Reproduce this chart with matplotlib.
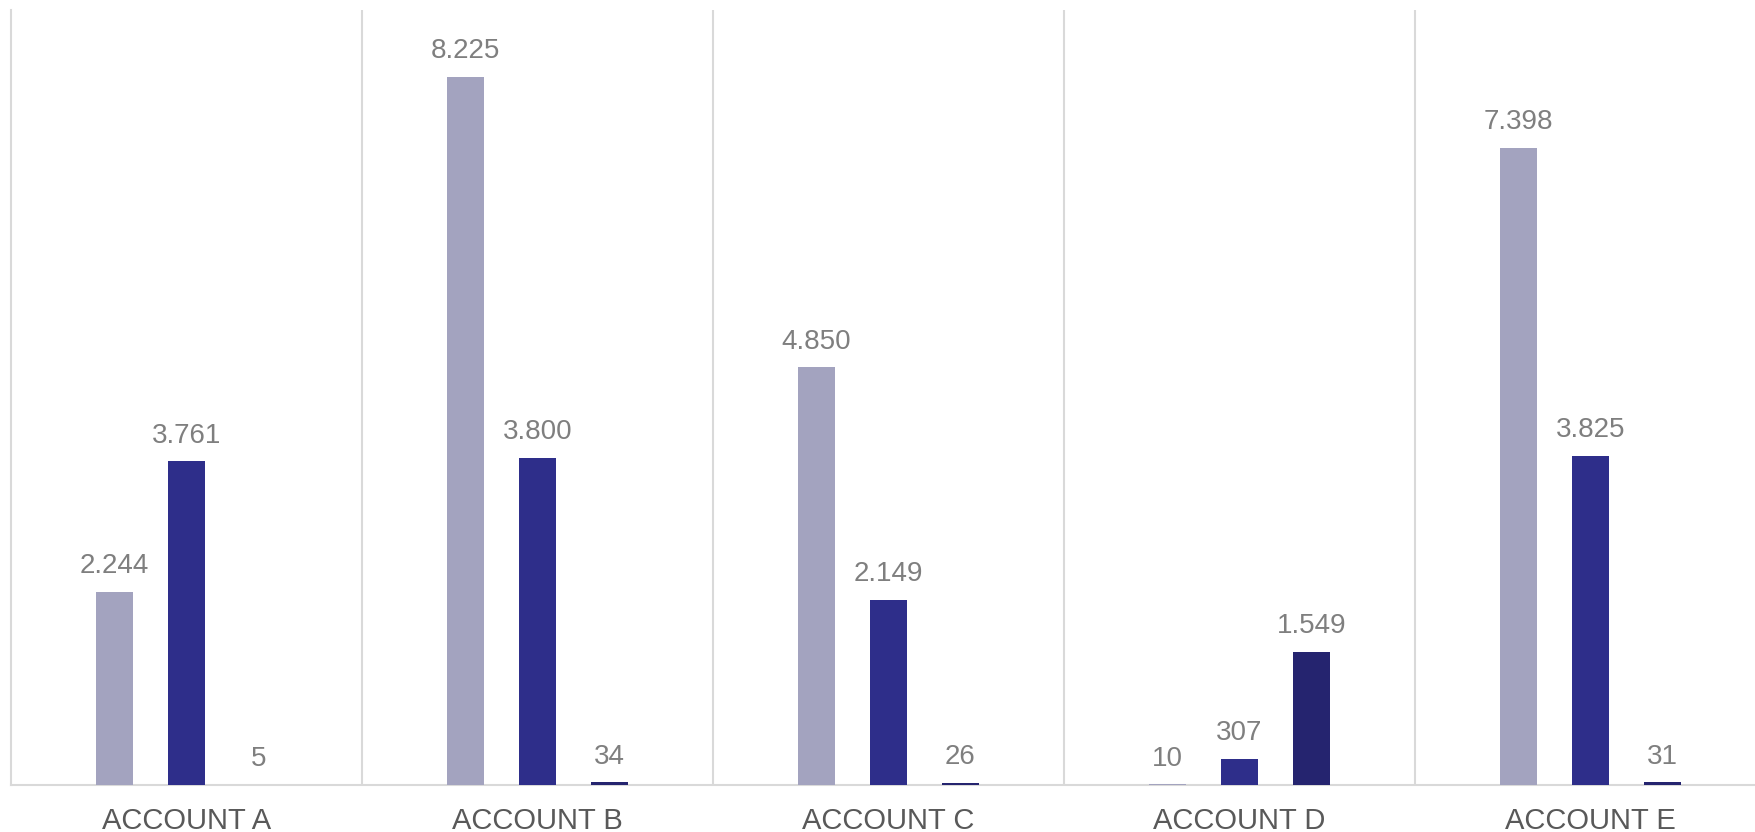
import numpy as np
import matplotlib
matplotlib.use("Agg")
import matplotlib.pyplot as plt

plt.rcParams['font.family'] = ['Liberation Sans', 'DejaVu Sans']

accounts = ["ACCOUNT A", "ACCOUNT B", "ACCOUNT C", "ACCOUNT D", "ACCOUNT E"]
series_1 = [2244, 8225, 4850, 10, 7398]
series_2 = [3761, 3800, 2149, 307, 3825]
series_3 = [5, 34, 26, 1549, 31]

colors = ["#A3A3BF", "#2E2E8A", "#25246F"]
grid_color = "#D9D9D9"

fig = plt.figure(figsize=(17.56, 8.32), dpi=100)
ax = fig.add_axes([11 / 1756, 1 - 785 / 832, 1755 / 1756, 775 / 832])

x = np.arange(len(accounts))
width = 0.107
offset = 0.205

for i, (vals, col) in enumerate(zip([series_1, series_2, series_3], colors)):
    pos = x + (i - 1) * offset
    bars = ax.bar(pos, vals, width=width, color=col, zorder=3)
    for b, v in zip(bars, vals):
        # dot as thousands separator
        ax.annotate(f"{v:,}".replace(",", "."),
                    (b.get_x() + b.get_width() / 2, b.get_height()),
                    xytext=(0, 9), textcoords="offset points",
                    ha="center", va="bottom", fontsize=20, color="#7F7F7F")

ax.set_xlim(-0.5, len(accounts) - 0.5)
ax.set_ylim(0, 9000)

# group separators
for sep in x[:-1] + 0.5:
    ax.axvline(sep, color=grid_color, lw=1.5, zorder=1)

for side in ["top", "right"]:
    ax.spines[side].set_visible(False)
for side in ["left", "bottom"]:
    ax.spines[side].set_color(grid_color)
    ax.spines[side].set_linewidth(1.5)

ax.set_yticks([])
ax.set_xticks(x)
ax.set_xticklabels(accounts, fontsize=21, color="#595959")
ax.tick_params(axis="x", length=0, pad=16)

fig.savefig("out.png", dpi=100)
